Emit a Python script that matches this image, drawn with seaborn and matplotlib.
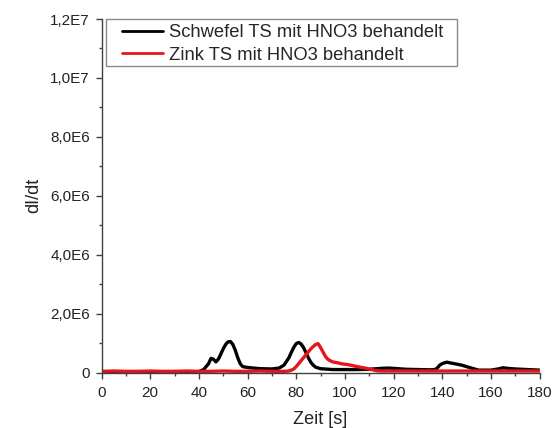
import matplotlib
matplotlib.use("Agg")
import matplotlib.pyplot as plt
import seaborn as sns
import pandas as pd
from matplotlib.ticker import MultipleLocator
from matplotlib.patches import Rectangle

# ---- data (values in units of 1e6) ----
t_black = [0, 5, 10, 15, 20, 25, 30, 35, 40, 42, 44, 45, 46, 47, 48, 49, 50, 51, 52, 53,
           54, 55, 56, 57, 58, 60, 65, 70, 73, 75, 77, 78, 79, 80, 81, 82, 83, 84, 85, 86,
           87, 88, 90, 95, 100, 105, 110, 115, 118, 120, 125, 130, 135, 137, 138, 139, 140,
           141, 142, 143, 145, 148, 150, 152, 155, 160, 163, 165, 167, 170, 175, 180]
v_black = [0.02, 0.03, 0.02, 0.02, 0.03, 0.02, 0.03, 0.02, 0.03, 0.10, 0.30, 0.48, 0.45, 0.36,
           0.45, 0.62, 0.80, 0.95, 1.04, 1.05, 0.95, 0.75, 0.50, 0.30, 0.20, 0.17, 0.13, 0.12,
           0.15, 0.25, 0.50, 0.68, 0.85, 0.98, 1.02, 0.97, 0.85, 0.68, 0.50, 0.35, 0.25, 0.18,
           0.13, 0.10, 0.10, 0.10, 0.11, 0.14, 0.15, 0.14, 0.11, 0.10, 0.09, 0.10, 0.15, 0.25,
           0.30, 0.33, 0.35, 0.33, 0.30, 0.25, 0.20, 0.15, 0.08, 0.08, 0.12, 0.16, 0.14, 0.12,
           0.10, 0.08]

t_red = [0, 5, 10, 15, 20, 25, 30, 35, 40, 45, 50, 55, 60, 65, 70, 75, 77, 78, 79, 80, 81,
         82, 83, 84, 85, 86, 87, 88, 89, 90, 91, 92, 93, 94, 95, 97, 99, 101, 103, 105, 107,
         109, 111, 113, 115, 120, 130, 140, 150, 160, 170, 180]
v_red = [0.04, 0.05, 0.04, 0.04, 0.05, 0.04, 0.04, 0.05, 0.04, 0.04, 0.05, 0.04, 0.04, 0.05,
         0.04, 0.04, 0.05, 0.08, 0.12, 0.20, 0.30, 0.40, 0.50, 0.60, 0.70, 0.80, 0.88, 0.95,
         0.98, 0.85, 0.70, 0.55, 0.45, 0.40, 0.36, 0.33, 0.29, 0.27, 0.24, 0.20, 0.17, 0.14,
         0.10, 0.06, 0.05, 0.05, 0.05, 0.05, 0.05, 0.05, 0.05, 0.05]

label_black = "Schwefel TS mit HNO3 behandelt"
label_red = "Zink TS mit HNO3 behandelt"

y_ticks = [0, 2e6, 4e6, 6e6, 8e6, 1e7, 1.2e7]
y_ticklabels = ["0", "2,0E6", "4,0E6", "6,0E6", "8,0E6", "1,0E7", "1,2E7"]
x_ticks = [0, 20, 40, 60, 80, 100, 120, 140, 160, 180]

df = pd.concat([
    pd.DataFrame({"t": t_black, "v": [v * 1e6 for v in v_black], "s": label_black}),
    pd.DataFrame({"t": t_red, "v": [v * 1e6 for v in v_red], "s": label_red}),
])

sns.set_theme(style="ticks")
plt.rcParams["font.family"] = ["Liberation Sans", "DejaVu Sans"]

W, H = 556, 428
fig = plt.figure(figsize=(W / 100, H / 100), dpi=100)
ax = fig.add_axes([101.5 / W, 1 - 372.5 / H, (539.5 - 101.5) / W, (372.5 - 19) / H])

sns.lineplot(data=df, x="t", y="v", hue="s", palette={label_black: "black", label_red: "#e8141c"},
             linewidth=2.4, ax=ax, legend=True, sort=False)

ax.set_xlim(0, 180)
ax.set_ylim(0, 1.2e7)
ax.set_xticks(x_ticks)
ax.set_xticklabels([str(x) for x in x_ticks])
ax.set_yticks(y_ticks)
ax.set_yticklabels(y_ticklabels)
ax.xaxis.set_minor_locator(MultipleLocator(10))
ax.yaxis.set_minor_locator(MultipleLocator(1e6))
ax.tick_params(which="major", length=4.3, width=1, colors="#404040", labelsize=11, labelcolor="#222222")
ax.tick_params(which="minor", length=2.5, width=1, colors="#404040")
ax.tick_params(axis="x", which="major", pad=5.5)
ax.tick_params(axis="y", which="major", pad=4)
for sp in ["top", "right"]:
    ax.spines[sp].set_visible(False)
for sp in ["left", "bottom"]:
    ax.spines[sp].set_color("#404040")
    ax.spines[sp].set_linewidth(1.0)

ax.set_xlabel("Zeit [s]", fontsize=13, color="#222222", labelpad=8)
ax.set_ylabel("dI/dt", fontsize=13, color="#222222", labelpad=6)

leg = ax.legend(loc="upper left", bbox_to_anchor=(122 / W, 1 - 24 / H),
                bbox_transform=fig.transFigure, fontsize=13.2, frameon=False,
                handlelength=2.25, borderpad=0.0, labelspacing=0.3, handletextpad=0.3,
                borderaxespad=0.0)
for line in leg.get_lines():
    line.set_linewidth(2)

fig.patches.append(Rectangle((106 / W, 1 - 66 / H), (457 - 106) / W, (66 - 19) / H,
                             transform=fig.transFigure, fill=False, edgecolor="#8a8a8a",
                             linewidth=1.0, zorder=5))

fig.savefig("out.png", dpi=100)
